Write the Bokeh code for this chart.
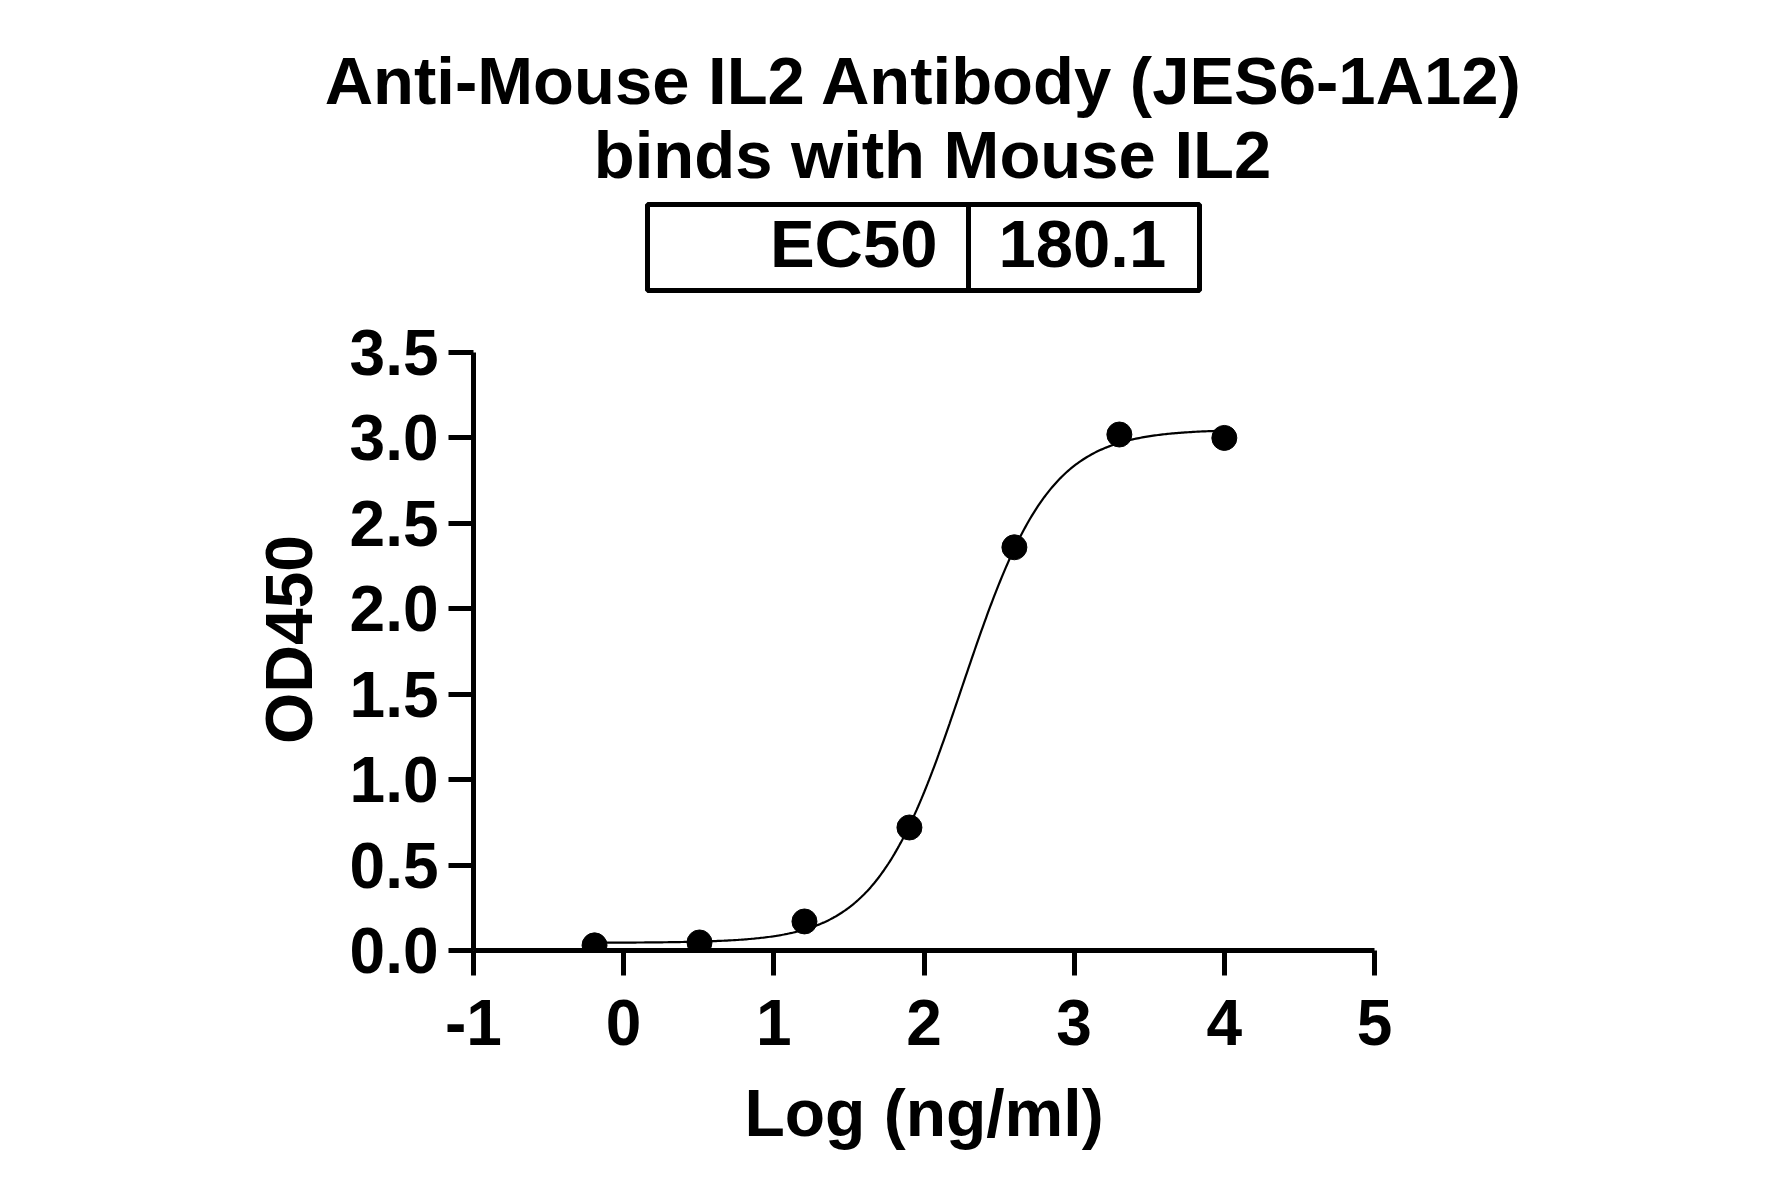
import numpy as np
from bokeh.plotting import figure
from bokeh.layouts import column
from bokeh.models import Range1d, FixedTicker
from bokeh.core.properties import value
from bokeh.embed import file_html
from bokeh.resources import INLINE

# ---------------- data ----------------
title_lines = ["Anti-Mouse IL2 Antibody (JES6-1A12)", "binds with Mouse IL2"]
ec50_label = "EC50"
ec50_value = "180.1"
x_title = "Log (ng/ml)"
y_title = "OD450"

log_conc = [-0.194, 0.505, 1.204, 1.903, 2.602, 3.301, 4.000]
od450 = [0.030, 0.047, 0.170, 0.720, 2.360, 3.020, 3.000]

# four-parameter logistic fit shown in the chart
fit_bottom = 0.045
fit_top = 3.05
fit_ec50 = 180.1
fit_hill = 1.5

x_ticks = [-1, 0, 1, 2, 3, 4, 5]
x_tick_labels = ["-1", "0", "1", "2", "3", "4", "5"]
y_ticks = [0.0, 0.5, 1.0, 1.5, 2.0, 2.5, 3.0, 3.5]
y_tick_labels = ["0.0", "0.5", "1.0", "1.5", "2.0", "2.5", "3.0", "3.5"]

# ---------------- styles / layout ----------------
FONT = "Liberation Sans"
W, H = 1765, 1181
HEAD_H = 300                       # header figure height
FR_LEFT, FR_W = 473, 901           # frame x extent (figure px)
AX_TOP, AX_BOTTOM = 352, 950       # y of 3.5 and 0.0 (page-figure px)
HEAD_FR_TOP = 118                  # header frame top (title panel above it)
EXTRA_TOP = 24                     # empty frame space above 3.5 (centres the y title)
unit_y = (AX_BOTTOM - AX_TOP) / 3.5
Y_END = 3.5 + EXTRA_TOP / unit_y

fit_x = np.linspace(min(log_conc), max(log_conc), 400)
fit_y = fit_bottom + (fit_top - fit_bottom) / (1 + 10 ** ((np.log10(fit_ec50) - fit_x) * fit_hill))

# ================= header figure =================
ph = figure(width=W, height=HEAD_H,
            x_range=Range1d(FR_LEFT, FR_LEFT + FR_W), y_range=Range1d(HEAD_H, HEAD_FR_TOP),
            x_axis_type=None, y_axis_type=None, output_backend="svg", toolbar_location=None,
            min_border_left=FR_LEFT, min_border_right=W - FR_LEFT - FR_W,
            min_border_top=HEAD_FR_TOP, min_border_bottom=0)
ph.grid.visible = False
ph.outline_line_color = None
ph.title.text = title_lines[0]
ph.title.align = "center"
ph.title.text_font = FONT
ph.title.text_font_size = "67px"
ph.title.text_font_style = "bold"
ph.title.text_color = "black"
ph.title.standoff = 2

ph.text(x=[932], y=[154], text=[title_lines[1]], text_font=value(FONT), text_font_size="67px",
        text_font_style="bold", text_align="center", text_baseline="alphabetic", text_color="black")
ph.quad(left=[647], right=[1199], top=[204], bottom=[290], fill_color=None,
        line_color="black", line_width=5)
ph.segment(x0=[968], y0=[204], x1=[968], y1=[290], line_color="black", line_width=5)
ph.text(x=[937], y=[243], text=[ec50_label], text_font=value(FONT), text_font_size="67px",
        text_font_style="bold", text_align="right", text_baseline="alphabetic", text_color="black")
ph.text(x=[998], y=[243], text=[ec50_value], text_font=value(FONT), text_font_size="67px",
        text_font_style="bold", text_align="left", text_baseline="alphabetic", text_color="black")

# ================= main plot =================
MAIN_H = H - HEAD_H
p = figure(width=W, height=MAIN_H, x_range=Range1d(-1, 5), y_range=Range1d(0, Y_END),
           output_backend="svg", toolbar_location=None,
           min_border_left=FR_LEFT, min_border_right=W - FR_LEFT - FR_W,
           min_border_top=AX_TOP - EXTRA_TOP - HEAD_H, min_border_bottom=H - AX_BOTTOM)
p.grid.visible = False
p.outline_line_color = None
p.background_fill_color = "white"

p.line(fit_x, fit_y, line_color="black", line_width=2.2)
p.scatter(log_conc, od450, size=25, marker="circle", fill_color="black", line_color="black")

for ax in (p.xaxis[0], p.yaxis[0]):
    ax.axis_line_width = 5
    ax.major_tick_line_width = 5
    ax.major_tick_out = 25
    ax.major_tick_in = 0
    ax.minor_tick_line_color = None
    ax.major_label_text_font = FONT
    ax.major_label_text_font_size = "64px"
    ax.major_label_text_font_style = "bold"
    ax.major_label_text_color = "black"
    ax.axis_label_text_font = FONT
    ax.axis_label_text_font_size = "66px"
    ax.axis_label_text_font_style = "bold"
    ax.axis_label_text_color = "black"
    ax.axis_line_color = "black"
    ax.major_tick_line_color = "black"

p.xaxis[0].ticker = FixedTicker(ticks=x_ticks)
p.xaxis[0].major_label_overrides = {t: s for t, s in zip(x_ticks, x_tick_labels)}
p.xaxis[0].bounds = (x_ticks[0], x_ticks[-1])
p.xaxis[0].major_label_standoff = 24
p.xaxis[0].axis_label = x_title
p.xaxis[0].axis_label_standoff = 28

p.yaxis[0].ticker = FixedTicker(ticks=y_ticks)
p.yaxis[0].major_label_overrides = {t: s for t, s in zip(y_ticks, y_tick_labels)}
p.yaxis[0].bounds = (y_ticks[0], y_ticks[-1])
p.yaxis[0].major_label_standoff = 10
p.yaxis[0].axis_label = y_title
p.yaxis[0].axis_label_standoff = 21

layout = column(ph, p, spacing=0)
open("out.html", "w").write(file_html(layout, INLINE))
